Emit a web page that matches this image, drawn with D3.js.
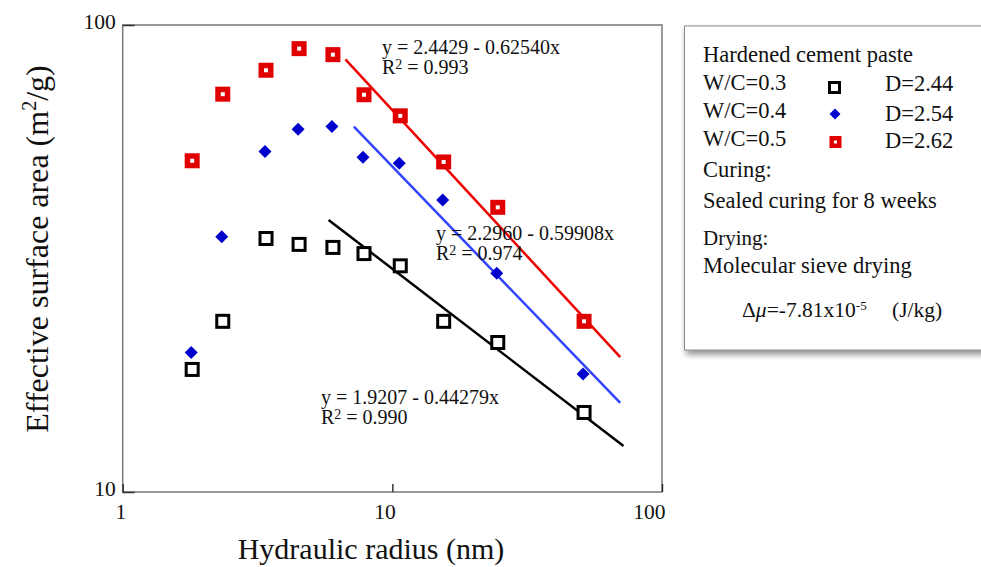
<!DOCTYPE html>
<html><head><meta charset="utf-8">
<script src="https://cdn.jsdelivr.net/npm/d3@7"></script>
<style>
html,body{margin:0;padding:0;background:#fff;}
svg{display:block;}
text{font-family:"Liberation Serif","Times New Roman",serif;fill:#111;}
</style></head>
<body><svg id="chart" width="981" height="567"></svg>
<script>
// ---- data ----
const radius = [1.81, 2.35, 3.40, 4.51, 6.02, 7.85, 10.7, 15.5, 24.6, 51.4];
const wc03 = [18.3, 23.2, 34.9, 33.9, 33.4, 32.4, 30.5, 23.2, 20.9, 14.8];
const wc04 = [19.9, 35.2, 53.6, 59.8, 60.6, 52.1, 50.6, 42.2, 29.4, 17.9];
const wc05 = [51.2, 71.1, 80.0, 89.0, 86.4, 70.9, 63.9, 50.9, 40.7, 23.2];
const seriesNames = ["W/C=0.3", "W/C=0.4", "W/C=0.5"];
const fractalD = ["D=2.44", "D=2.54", "D=2.62"];
const fitIntercept = [1.9207, 2.2960, 2.4429];
const fitSlope = [0.44279, 0.59908, 0.62540];
const fitR2 = ["0.990", "0.974", "0.993"];
const fitStart = [5.8, 7.2, 6.7];
const fitEnd = [72, 70, 70];
const xTicks = [1, 10, 100];
const yTicks = [10, 100];

const svg = d3.select("#chart");
const L = 122.7, R = 662, T = 25, B = 492;
const x = d3.scaleLog().domain([1, 100]).range([L, R]);
const y = d3.scaleLog().domain([10, 100]).range([B, T]);

// shadow filter
const defs = svg.append("defs");
const f = defs.append("filter").attr("id","sh").attr("x","-10%").attr("y","-10%").attr("width","130%").attr("height","130%");
f.append("feGaussianBlur").attr("in","SourceAlpha").attr("stdDeviation",3);
f.append("feOffset").attr("dx",2).attr("dy",4).attr("result","ob");
f.append("feComponentTransfer").append("feFuncA").attr("type","linear").attr("slope",0.45);
const fm = f.append("feMerge"); fm.append("feMergeNode"); fm.append("feMergeNode").attr("in","SourceGraphic");

// frame
svg.append("rect").attr("x",L).attr("y",T).attr("width",R-L).attr("height",B-T)
  .attr("fill","none").attr("stroke","#777").attr("stroke-width",1.5);

// axes (ticks inside)
const gx = svg.append("g").attr("transform",`translate(0,${B})`)
  .call(d3.axisBottom(x).tickValues(xTicks).tickFormat(d3.format("d")).tickSize(-8).tickPadding(0));
gx.select(".domain").remove();
gx.selectAll(".tick line").attr("stroke","#333").attr("stroke-width",1.5);
gx.selectAll(".tick text").attr("font-size",21.5).attr("font-family","Liberation Serif")
  .attr("text-anchor","end").attr("dx",3).attr("y",27).attr("dy",0).attr("fill","#111");

const gy = svg.append("g").attr("transform",`translate(${L},0)`)
  .call(d3.axisLeft(y).tickValues(yTicks).tickFormat(d3.format("d")).tickSize(-12).tickPadding(7));
gy.select(".domain").remove();
gy.selectAll(".tick line").attr("stroke","#333").attr("stroke-width",1.5);
gy.selectAll(".tick text").attr("font-size",21.5).attr("font-family","Liberation Serif")
  .attr("dy","0.16em").attr("fill","#111");

// fit lines
const lineColors = ["#000000", "#3344ff", "#ee0000"];
fitIntercept.forEach((a,i)=>{
  const pts = [fitStart[i], fitEnd[i]].map(r=>[r, Math.pow(10, a - fitSlope[i]*Math.log10(r))]);
  svg.append("path").attr("d", d3.line().x(d=>x(d[0])).y(d=>y(d[1]))(pts))
    .attr("stroke", lineColors[i]).attr("stroke-width",2.5).attr("fill","none");
});

// markers
function blackSq(g, cx, cy, s){ g.append("rect").attr("x",cx-s/2).attr("y",cy-s/2).attr("width",s).attr("height",s)
  .attr("fill","#fff").attr("stroke","#000").attr("stroke-width",3); }
function redSq(g, cx, cy, s, sw){ g.append("rect").attr("x",cx-s/2).attr("y",cy-s/2).attr("width",s).attr("height",s)
  .attr("fill","#fff").attr("stroke","#e00000").attr("stroke-width",sw); }
function diamond(g, cx, cy, r){ g.append("path").attr("d",`M${cx},${cy-r}L${cx+r},${cy}L${cx},${cy+r}L${cx-r},${cy}Z`).attr("fill","#0000cc"); }

const gm = svg.append("g");
radius.forEach((r,i)=>{ blackSq(gm, x(r), y(wc03[i]), 12); });
radius.forEach((r,i)=>{ diamond(gm, x(r)-1, y(wc04[i]), 6.5); });
radius.forEach((r,i)=>{ redSq(gm, x(r), y(wc05[i]), 9.5, 5.5); });

// equation labels
const eqPos = [[321,404],[436,240],[382,54]];
fitIntercept.forEach((a,i)=>{
  const t = svg.append("text").attr("x",eqPos[i][0]).attr("y",eqPos[i][1]).attr("font-size",20);
  t.text(`y = ${a.toFixed(4)} - ${fitSlope[i].toFixed(5)}x`);
  const t2 = svg.append("text").attr("x",eqPos[i][0]).attr("y",eqPos[i][1]+20).attr("font-size",20);
  t2.append("tspan").text("R");
  t2.append("tspan").attr("font-size",14).attr("dy",-5).text("2");
  t2.append("tspan").attr("dy",5).text(" = " + fitR2[i]);
});

// axis titles
svg.append("text").attr("x",371).attr("y",559).attr("text-anchor","middle").attr("font-size",30).text("Hydraulic radius (nm)");
const yt = svg.append("text").attr("transform","translate(48,249) rotate(-90)").attr("text-anchor","middle").attr("font-size",32);
yt.append("tspan").text("Effective surface area (m");
yt.append("tspan").attr("font-size",20).attr("dy",-12).text("2");
yt.append("tspan").attr("dy",12).text("/g)");

// legend box
const lg = svg.append("g");
lg.append("rect").attr("x",684.5).attr("y",26).attr("width",320).attr("height",324)
  .attr("fill","#fff").attr("stroke","#888").attr("stroke-width",1).attr("filter","url(#sh)");
const fs = 22.5;
lg.append("text").attr("x",703).attr("y",62).attr("font-size",fs).text("Hardened cement paste");
const rowY = [90, 118, 146];
const dY = [91, 121, 148];
seriesNames.forEach((s,i)=>{
  lg.append("text").attr("x",703).attr("y",rowY[i]).attr("font-size",fs).text(s);
  lg.append("text").attr("x",885).attr("y",dY[i]).attr("font-size",fs).text(fractalD[i]);
});
blackSq(lg, 834.5, 87.5, 10);
diamond(lg, 835, 114, 5.5);
redSq(lg, 835.5, 142, 7.5, 4.5);
lg.append("text").attr("x",703).attr("y",177).attr("font-size",fs).text("Curing:");
lg.append("text").attr("x",703).attr("y",208).attr("font-size",fs).text("Sealed curing for 8 weeks");
lg.append("text").attr("x",703).attr("y",245).attr("font-size",21).text("Drying:");
lg.append("text").attr("x",703).attr("y",273).attr("font-size",fs).text("Molecular sieve drying");
const mu = lg.append("text").attr("x",742).attr("y",317).attr("font-size",21.5);
mu.append("tspan").text("Δ");
mu.append("tspan").attr("font-style","italic").text("μ");
mu.append("tspan").text("=-7.81x10");
mu.append("tspan").attr("font-size",13).attr("dy",-7).text("-5");
mu.append("tspan").attr("dy",7).attr("x",892).text("(J/kg)");
</script></body></html>
